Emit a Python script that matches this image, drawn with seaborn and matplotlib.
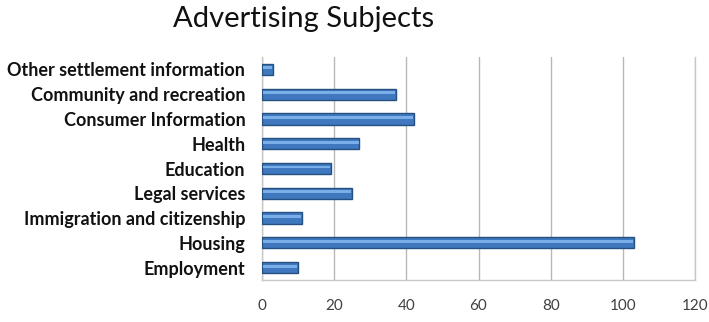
import matplotlib
matplotlib.use("Agg")
import matplotlib.pyplot as plt
import seaborn as sns
import pandas as pd
import numpy as np

subjects = [
    "Other settlement information",
    "Community and recreation",
    "Consumer Information",
    "Health",
    "Education",
    "Legal services",
    "Immigration and citizenship",
    "Housing",
    "Employment",
]
counts = [3, 37, 42, 27, 19, 25, 11, 103, 10]
x_ticks = [0, 20, 40, 60, 80, 100, 120]

df = pd.DataFrame({"subject": subjects, "count": counts})

sns.set_theme(style="white")
plt.rcParams["font.family"] = ["Lato", "DejaVu Sans"]

fig = plt.figure(figsize=(7.09, 3.22), dpi=100)
ax = fig.add_axes([262 / 709, 1 - 280 / 322, (695 - 262) / 709, (280 - 57) / 322])

# main bars
sns.barplot(data=df, x="count", y="subject", orient="h", width=0.45,
            color="#3f78bf", edgecolor="#25507f", linewidth=1.0,
            saturation=1, ax=ax, zorder=3)

# glossy highlight stripe along the upper part of each bar
ypos = np.arange(len(subjects))
ax.barh(ypos - 0.06, np.array(counts) - 0.4, height=0.12, left=0.2,
        color="#7aaee8", linewidth=0, zorder=4)

ax.set_xlim(0, 120)
ax.set_ylim(len(subjects) - 0.5, -0.5)
ax.set_xticks(x_ticks)
ax.set_xticklabels([str(t) for t in x_ticks])
ax.xaxis.grid(True, color="#b8b8b8", linewidth=1.0, zorder=0)
ax.yaxis.grid(False)
ax.set_axisbelow(True)

for side in ["left", "bottom", "right"]:
    ax.spines[side].set_visible(True)
    ax.spines[side].set_color("#c8c8c8")
    ax.spines[side].set_linewidth(1.0)
ax.spines["top"].set_visible(False)

ax.set_xlabel("")
ax.set_ylabel("")
ax.tick_params(axis="x", length=0, pad=14, labelsize=11, labelcolor="#404040")
ax.tick_params(axis="y", length=0, pad=12, labelsize=13, labelcolor="#111111")
for lab in ax.get_yticklabels():
    lab.set_fontweight("bold")

fig.text(304 / 709, 1 - 27 / 322, "Advertising Subjects", ha="center", va="baseline",
         fontsize=21, color="#111111")

fig.savefig("out.png", dpi=100)
